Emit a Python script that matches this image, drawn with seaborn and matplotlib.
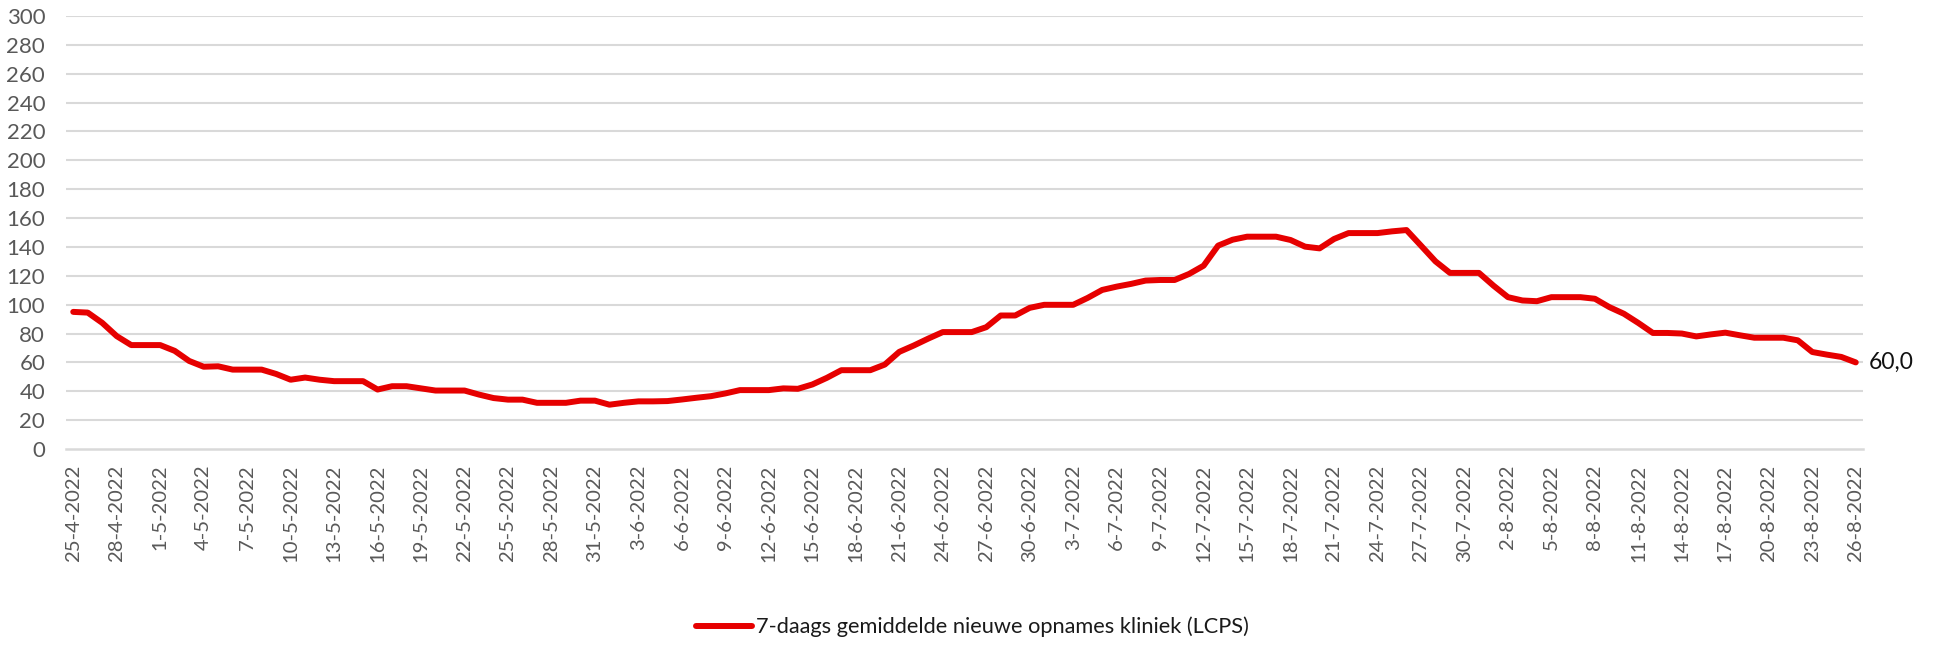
import numpy as np
import pandas as pd
import matplotlib
matplotlib.use("Agg")
import matplotlib.pyplot as plt
import seaborn as sns
from matplotlib.lines import Line2D

# ---- data ----
dates = pd.date_range("2022-04-25", "2022-08-26", freq="D")
date_labels = [f"{d.day}-{d.month}-{d.year}" for d in dates]

values = [
    95, 94.5, 87.4, 78.2, 72, 72, 72, 68, 61, 57,
    57.3, 55, 55, 55, 52, 48, 49.5, 48, 47, 47,
    47, 41.2, 43.5, 43.5, 42, 40.5, 40.5, 40.5, 37.7, 35.3,
    34.2, 34.2, 32, 32, 32, 33.5, 33.5, 30.7, 32, 33,
    33, 33.2, 34.3, 35.5, 36.6, 38.5, 40.8, 40.8, 40.8, 42,
    41.7, 44.7, 49.3, 54.6, 54.6, 54.6, 58.5, 67.3, 71.7, 76.5,
    81, 81, 81, 84.4, 92.5, 92.5, 97.8, 99.9, 99.9, 99.9,
    104.7, 110.2, 112.5, 114.4, 116.7, 117.1, 117.1, 121.3, 127, 140.9,
    145, 147.1, 147.1, 147.1, 144.8, 140.2, 139, 145.5, 149.6, 149.6,
    149.6, 150.8, 151.7, 140.9, 130, 122, 122, 122, 113.2, 105.2,
    102.9, 102.4, 105.2, 105.2, 105.2, 104.1, 98.3, 93.7, 87.3, 80.4,
    80.4, 80, 78, 79.4, 80.6, 78.8, 77.1, 77.1, 77.1, 75.3,
    67.2, 65.4, 63.8, 60.0,
]
series_name = "7-daags gemiddelde nieuwe opnames kliniek (LCPS)"
last_label = "60,0"
y_ticks = list(range(0, 301, 20))

df = pd.DataFrame({"idx": np.arange(len(values)), "value": values,
                   "serie": series_name})

# ---- style ----
sns.set_theme(style="white")
plt.rcParams["font.family"] = ["Lato", "DejaVu Sans"]

W, H = 1938, 649
fig = plt.figure(figsize=(W / 100, H / 100), dpi=100)
ax = fig.add_axes([66 / W, 1 - 449 / H, (1863 - 66) / W, (449 - 16) / H])

grid_c = "#d9d9d9"
red = "#e60000"
for yv in y_ticks[1:]:
    ax.axhline(yv, color=grid_c, lw=1.5, zorder=0)

sns.lineplot(data=df, x="idx", y="value", hue="serie",
             palette=[red], lw=4.3, ax=ax, legend=False,
             solid_capstyle="round", solid_joinstyle="round", zorder=3)

ax.set_xlim(-0.5, len(values) - 0.5)
ax.set_ylim(0, 300)
ax.set_yticks(y_ticks)
ax.set_yticklabels([str(v) for v in y_ticks], fontsize=16, color="#595959")
ax.tick_params(axis="y", length=0, pad=15)

label_pos = list(range(0, len(values), 3))
ax.set_xticks(label_pos)
ax.set_xticklabels([date_labels[i] for i in label_pos], rotation=90,
                   fontsize=14.6, color="#595959")
ax.tick_params(axis="x", which="major", length=0, pad=11)
ax.set_xticks([p - 0.5 for p in label_pos], minor=True)
ax.tick_params(axis="x", which="minor", length=6, width=1.3, color=grid_c,
               direction="out")
ax.set_xlabel("")
ax.set_ylabel("")

for s in ["top", "right", "left"]:
    ax.spines[s].set_visible(False)
ax.spines["bottom"].set_color(grid_c)
ax.spines["bottom"].set_linewidth(1.8)

ax.annotate(last_label, xy=(len(values) - 1, values[-1]), xytext=(9, 0),
            textcoords="offset points", va="center", ha="left",
            fontsize=16.5, color="#111111", annotation_clip=False)

handle = Line2D([], [], color=red, lw=4.3, solid_capstyle="round")
fig.legend([handle], [series_name], loc="center",
           bbox_to_anchor=(972 / W, 1 - 627 / H), frameon=False,
           fontsize=15.7, handlelength=2.6, handletextpad=0.15,
           labelcolor="#1a1a1a")

fig.savefig("out.png", dpi=100)
